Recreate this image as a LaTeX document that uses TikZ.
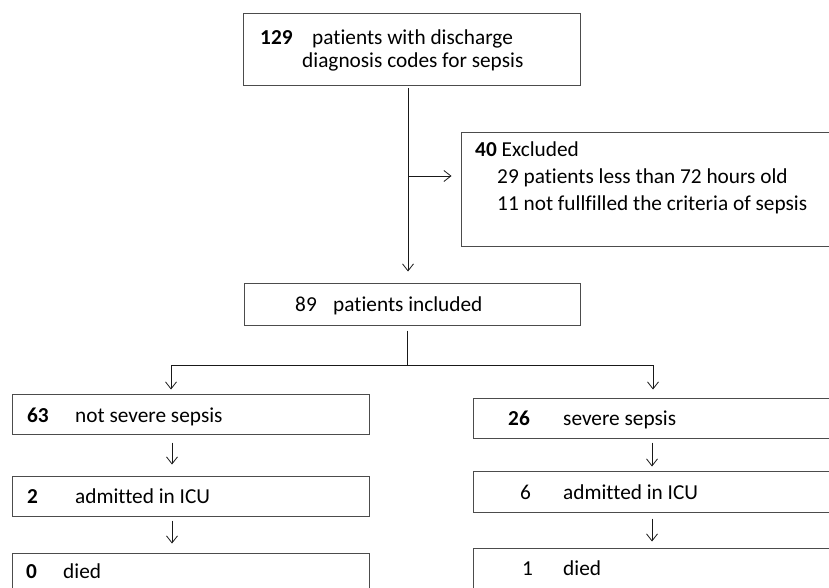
\documentclass[tikz,border=0pt]{standalone}
\usepackage{fontspec}
\setmainfont{Carlito}[Ligatures=NoCommon]
\usetikzlibrary{arrows.meta}
\begin{document}
\begin{tikzpicture}[x=1pt,y=-1pt,
 box/.style={draw=black!70, line width=1pt, rectangle, inner sep=0pt},
 lbl/.style={anchor=base west, inner sep=0pt, font=\fontsize{21.3}{25}\selectfont},
 con/.style={draw=black!90, line width=0.8pt},
 arr/.style={con, -{Straight Barb[length=7pt,width=11pt]}}]
\useasboundingbox (0,0) rectangle (829,588);
\clip (0,0) rectangle (829,588);
% boxes
\node[box, minimum width=337pt, minimum height=72pt] (top) at (411.5,50) {};
\node[box, minimum width=384pt, minimum height=113pt] (excl) at (653,189.5) {};
\node[box, minimum width=336pt, minimum height=42pt] (incl) at (412,304) {};
\node[box, minimum width=357pt, minimum height=40pt] (l1) at (190.5,414) {};
\node[box, minimum width=357pt, minimum height=40pt] (l2) at (190.5,496) {};
\node[box, minimum width=357pt, minimum height=42pt] (l3) at (190.5,574) {};
\node[box, minimum width=372pt, minimum height=40pt] (r1) at (659,418) {};
\node[box, minimum width=372pt, minimum height=41pt] (r2) at (659,491.5) {};
\node[box, minimum width=372pt, minimum height=47pt] (r3) at (659,571.5) {};
% texts
\node[lbl] (t1n) at (260,45) {\textbf{129}};
\node[lbl] (t1a) at (312,45) {patients with discharge};
\node[lbl] (t1b) at (302,68) {diagnosis codes for sepsis};
\node[lbl] (e1) at (475,157) {\textbf{40} Excluded};
\node[lbl] (e2) at (497,183.5) {29 patients less than 72 hours old};
\node[lbl] (e3) at (497,210) {11 not fullfilled the criteria of sepsis};
\node[lbl] (i1n) at (295,311) {89};
\node[lbl] (i1a) at (333,311) {patients included};
\node[lbl] (l1n) at (27,422) {\textbf{63}};
\node[lbl] (l1a) at (75,422) {not severe sepsis};
\node[lbl] (l2n) at (27,503) {\textbf{2}};
\node[lbl] (l2a) at (75,503) {admitted in ICU};
\node[lbl] (l3n) at (26,578) {\textbf{0}};
\node[lbl] (l3a) at (63,578) {died};
\node[lbl] (r1n) at (508,425) {\textbf{26}};
\node[lbl] (r1a) at (563,425) {severe sepsis};
\node[lbl] (r2n) at (520,499) {6};
\node[lbl] (r2a) at (563,499) {admitted in ICU};
\node[lbl] (r3n) at (522,575) {1};
\node[lbl] (r3a) at (563,575) {died};
% connectors
\draw[arr] ([xshift=-3.5pt,yshift=-2pt]top.south) -- ([xshift=-4pt,yshift=11pt]incl.north);
\coordinate (b1) at (408,176);
\draw[arr, shorten >=9pt] (b1) -- (b1 -| excl.west);
\coordinate (j) at (407,365);
\coordinate (jl) at (171,365);
\coordinate (jr) at (653,365);
\draw[con] ([xshift=-5pt,yshift=-5pt]incl.south) -- (j);
\draw[con] (jl) -- (jr);
\draw[arr, shorten >=4pt] (jl) -- (jl |- l1.north);
\draw[arr, shorten >=8pt] (jr) -- (jr |- r1.north);
\draw[arr] ([xshift=-18.5pt,yshift=-8pt]l1.south) -- ([xshift=-18.5pt,yshift=11pt]l2.north);
\draw[arr] ([xshift=-18.5pt,yshift=-4pt]l2.south) -- ([xshift=-18.5pt,yshift=9pt]l3.north);
\draw[arr] ([xshift=-7pt,yshift=-4pt]r1.south) -- ([xshift=-7pt,yshift=4pt]r2.north);
\draw[arr] ([xshift=-7pt,yshift=-6pt]r2.south) -- ([xshift=-7pt,yshift=6pt]r3.north);
\end{tikzpicture}
\end{document}
